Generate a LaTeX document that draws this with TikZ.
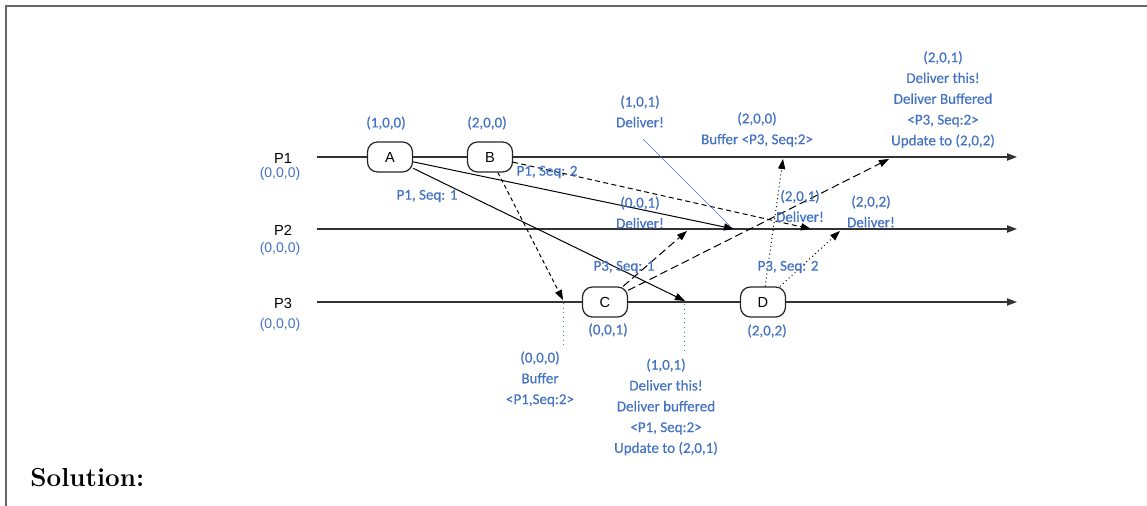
\documentclass[tikz,border=0pt]{standalone}
\usepackage{fontspec}
\usetikzlibrary{arrows.meta}
\newfontfamily\calib[FakeBold=0.4]{Carlito}
\newfontfamily\helv{Liberation Sans}
\definecolor{msblue}{RGB}{68,114,196}

\begin{document}
\begin{tikzpicture}[x=0.5pt,y=-0.5pt,
  tiparrow/.style={-{Triangle[length=5pt,width=3.6pt]}},
  lifeline/.style={line width=0.7pt, draw=black!80, tiparrow},
  msg/.style={line width=0.5pt, tiparrow},
  shortdash/.style={dash pattern=on 2pt off 1.5pt},
  middash/.style={dash pattern=on 2.5pt off 1.7pt},
  longdash/.style={dash pattern=on 4pt off 2pt},
  dotline/.style={dash pattern=on 0.5pt off 1.5pt},
  evt/.style={draw=black!85, line width=0.6pt, fill=white, rounded corners=5pt,
    minimum width=22.5pt, minimum height=15pt, inner sep=0pt,
    font=\helv\fontsize{7.3}{8}\selectfont},
  bluetext/.style={text=msblue, font=\calib\fontsize{7.5}{10.4}\selectfont,
    align=center, inner sep=0pt},
  plabel/.style={font=\helv\fontsize{7.3}{8}\selectfont, inner sep=0pt},
  pclock/.style={text=msblue, font=\helv\fontsize{7}{8}\selectfont, inner sep=0pt},
  guide/.style={draw=msblue, line width=0.3pt},
]
\useasboundingbox (0,0) rectangle (1147,506);

% page frame
\draw[line width=0.8pt, black!60] (6,506) -- (6,6) -- (1147,6);

% process lines
\coordinate (p1s) at (317,157); \coordinate (p1e) at (1017,157);
\coordinate (p2s) at (317,229); \coordinate (p2e) at (1017,229);
\coordinate (p3s) at (317,302); \coordinate (p3e) at (1017,302);
\draw[lifeline] (p1s) -- (p1e);
\draw[lifeline] (p2s) -- (p2e);
\draw[lifeline] (p3s) -- (p3e);

% process names and initial clocks
\node[plabel] (n1) at (283,158) {P1};
\node[pclock] (c1) at (280,174) {(0,0,0)};
\node[plabel] (n2) at (283,230) {P2};
\node[pclock] (c2) at (280,249) {(0,0,0)};
\node[plabel] (n3) at (283,303) {P3};
\node[pclock] (c3) at (280,325) {(0,0,0)};

% events
\node[evt] (A) at (390,157) {A};
\node[evt] (B) at (490,157) {B};
\node[evt] (C) at (605,302) {C};
\node[evt] (D) at (763,302) {D};

% receive points
\coordinate (aP2) at (734,229);
\coordinate (aP3) at (685,301);
\coordinate (bP3) at (563,300);
\coordinate (bP2) at (811,229);
\coordinate (cP2) at (687,231);
\coordinate (cP1) at (889,159);
\coordinate (dP1) at (783,159);
\coordinate (dP2) at (840,231);

% messages
\draw[msg] (A) -- (aP2);
\draw[msg] (A) -- (aP3);
\draw[msg, shortdash] (B) -- (bP3);
\draw[msg, middash] (B) -- (bP2);
\draw[msg, longdash] (C) -- (cP2);
\draw[msg, longdash] (C) -- (cP1);
\draw[msg, dotline] (D) -- (dP1);
\draw[msg, dotline] (D) -- (dP2);

% clocks at events
\node[bluetext] (tA) at (386,123) {(1,0,0)};
\node[bluetext] (tB) at (487,123) {(2,0,0)};
\node[bluetext] (tC) at (608,330) {(0,0,1)};
\node[bluetext] (tD) at (767,331) {(2,0,2)};

% message labels
\node[bluetext] (m1) at (427,196) {P1, Seq: 1};
\node[bluetext] (m2) at (547,172) {P1, Seq: 2};
\node[bluetext] (m3) at (624,267) {P3, Seq: 1};
\node[bluetext] (m4) at (788,267) {P3, Seq: 2};

% delivery notes
\node[bluetext] (r101) at (640,111.5) {(1,0,1)\\Deliver!};
\node[bluetext] (r200) at (757,129.5) {(2,0,0)\\Buffer <P3, Seq:2>};
\node[bluetext] (r201top) at (943,99.5) {(2,0,1)\\Deliver this!\\Deliver Buffered\\<P3, Seq:2>\\Update to (2,0,2)};
\node[bluetext] (r001) at (640,212.5) {(0,0,1)\\Deliver!};
\node[bluetext] (r201) at (800,206) {(2,0,1)\\Deliver!};
\node[bluetext] (r202) at (871,211.5) {(2,0,2)\\Deliver!};
\node[bluetext] (r000) at (540,379) {(0,0,0)\\Buffer\\<P1,Seq:2>};
\node[bluetext] (r101b) at (666,407) {(1,0,1)\\Deliver this!\\Deliver buffered\\<P1, Seq:2>\\Update to (2,0,1)};

% guides from notes to receive points
\coordinate (g1) at (643,139);
\coordinate (g2) at (730,226);
\draw[guide] (g1) -- (g2);
\coordinate (g3) at (563,347);
\coordinate (g4) at (684,352);
\draw[guide, dotted] (bP3) ++(0,3) -- (g3);
\draw[guide, dotted] (aP3) ++(-1,3) -- (g4);

% heading
\node[anchor=west, inner sep=0pt, font=\fontsize{13}{15}\selectfont\bfseries] (sol) at (30,478) {Solution:};
\end{tikzpicture}
\end{document}
